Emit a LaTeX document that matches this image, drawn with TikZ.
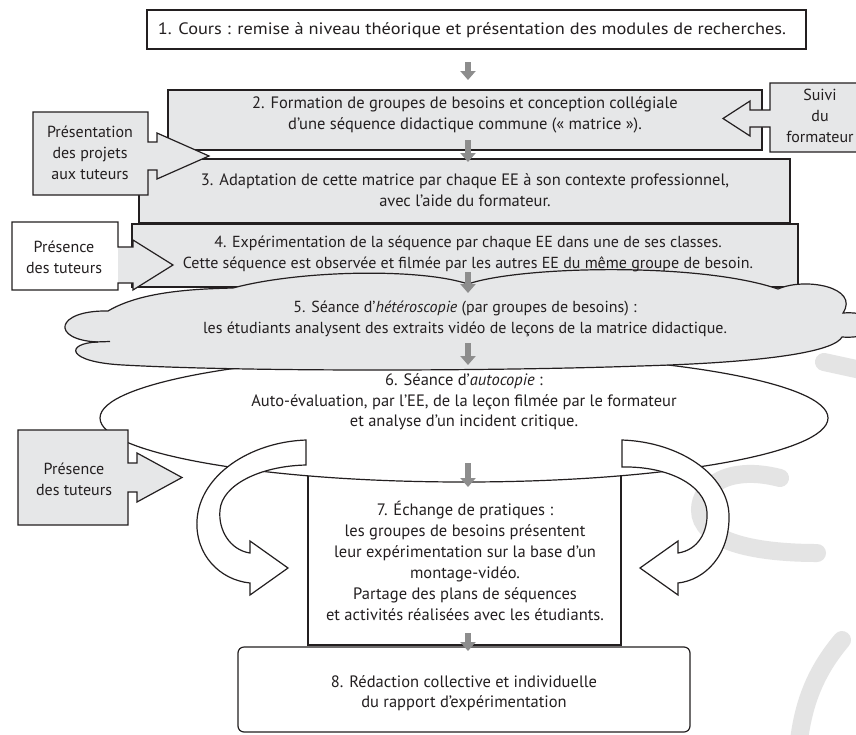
\documentclass[tikz,border=0pt]{standalone}
\usepackage{graphicx}
\usepackage{fontspec}
\setmainfont{PT Sans}
\usetikzlibrary{arrows.meta}
\definecolor{boxgray}{HTML}{E6E7E8}
\definecolor{ink}{HTML}{231F20}
\definecolor{flowgray}{HTML}{8D8D8D}
\definecolor{wmark}{HTML}{E4E4E4}
\begin{document}
\begin{tikzpicture}[x=1pt,y=-1pt,
  ln/.style={draw=ink, line width=1.2pt},
  gbox/.style={ln, fill=boxgray, rectangle, inner sep=0pt},
  wbox/.style={ln, fill=white, rectangle, inner sep=0pt},
  txt/.style={align=center, inner sep=0pt, text=ink, font=\fontsize{16.5}{20.5}\selectfont},
  smalltxt/.style={txt, font=\fontsize{16}{21}\selectfont},
  flow/.style={draw=flowgray, line width=6pt, -{Triangle[width=15pt,length=9pt]}},
  wm/.style={draw=wmark, line width=18pt, line cap=round}]
\clip (0,0) rectangle (856,734);
\fill[white] (0,0) rectangle (856,734);
% watermark
\draw[wm] (780,478) .. controls (730,465) and (700,485) .. (700,510) .. controls (700,540) and (750,553) .. (817,553);
\draw[wm] (824,362) -- (870,372);
\draw[wm] (842,640) .. controls (815,672) and (802,705) .. (798,750);
% boxes 1-3
\node[wbox, minimum width=659pt, minimum height=39pt] (b1) at (476.5,29.5) {};
\node[gbox, minimum width=594pt, minimum height=60pt] (b2) at (465,120) {};
\node[gbox, minimum width=651pt, minimum height=64pt] (b3) at (464.5,191) {};
% callout 1
\filldraw[ln, fill=boxgray] (33,112) -- (148,112) -- (148,142) -- (157,142) -- (157,133) -- (209,156) -- (157,179) -- (157,170) -- (148,170) -- (148,195) -- (33,195) -- cycle;
% box 4
\node[gbox, minimum width=666pt, minimum height=63pt] (b4) at (465,255.5) {};
% callout 2
\fill[boxgray] (118,247) -- (133,247) -- (133,240) -- (173,265) -- (133,290) -- (133,283) -- (118,283) -- cycle;
\fill[white] (12,222) rectangle (118,290);
\draw[ln] (12,222) -- (118,222) -- (118,247) -- (133,247) -- (133,240) -- (173,265) -- (133,290) -- (133,283) -- (118,283) -- (118,290) -- (12,290) -- cycle;
% boxes 7, 8
\node[wbox, minimum width=313pt, minimum height=185pt] (b7) at (464.5,552.5) {};
\node[wbox, rounded corners=6pt, minimum width=452pt, minimum height=85pt] (b8) at (464,689.5) {};
% ellipse 6
\filldraw[ln, fill=white] (464,418) ellipse [x radius=364, y radius=64];
% cloud 5
\filldraw[ln, fill=boxgray] (233,288) .. controls (300,270) and (420,268) .. (468,284)
  .. controls (520,266) and (700,262) .. (778,289)
  .. controls (805,277) and (860,287) .. (843,313)
  .. controls (885,310) and (885,340) .. (842,337)
  .. controls (835,350) and (780,362) .. (640,366)
  .. controls (500,371) and (250,372) .. (123,365)
  .. controls (65,362) and (65,343) .. (98,342)
  .. controls (50,340) and (55,310) .. (108,311)
  .. controls (140,292) and (190,289) .. (233,288) -- cycle;
\draw[ln] (95,342) -- (110,341.5);
% callout 3
\filldraw[ln, fill=boxgray] (18,430) -- (128,430) -- (128,463) -- (137,463) -- (137,453) -- (182,477.5) -- (137,502) -- (137,492) -- (128,492) -- (128,525) -- (18,525) -- cycle;
% curved arrows
\filldraw[ln, fill=white] (306,440) .. controls (250,442) and (200,475) .. (197,520)
  .. controls (195,555) and (220,580) .. (250,583) -- (250,595) -- (288,568) -- (250,541) -- (250,553)
  .. controls (230,550) and (218,530) .. (220,510) .. controls (222,485) and (260,466) .. (306,465) -- cycle;
\filldraw[ln, fill=white] (622,440) .. controls (680,442) and (728,475) .. (729,515)
  .. controls (730,555) and (705,580) .. (678,583) -- (678,595) -- (640,568) -- (678,541) -- (678,553)
  .. controls (698,550) and (708,532) .. (707,512) .. controls (705,485) and (668,466) .. (622,467) -- cycle;
% right callout
\filldraw[ln, fill=boxgray] (880,83) -- (770,83) -- (770,110) -- (750,110) -- (750,101) -- (723,118.5) -- (750,136) -- (750,127) -- (770,127) -- (770,152) -- (880,152) -- cycle;
% texts
\node[txt] (t1) at (472,30) {\resizebox{628pt}{\height}{1. Cours : remise à niveau théorique et présentation des modules de recherches.}};
\node[txt] (t2) at (465,115) {2. Formation de groupes de besoins et conception collégiale\\d’une séquence didactique commune («~matrice~»).};
\node[txt] (t3) at (465,190) {3. Adaptation de cette matrice par chaque EE à son contexte professionnel,\\avec l’aide du formateur.};
\node[txt, font=\fontsize{16}{20.5}\selectfont] (t4) at (468,254) {4. Expérimentation de la séquence par chaque EE dans une de ses classes.\\Cette séquence est observée et filmée par les autres EE du même groupe de besoin.};
\node[smalltxt] (t5) at (465,319) {5. Séance d’\textit{hétéroscopie} (par groupes de besoins) :\\les étudiants analysent des extraits vidéo de leçons de la matrice didactique.};
\node[txt] (t6) at (464,402) {6. Séance d’\textit{autocopie} :\\Auto-évaluation, par l’EE, de la leçon filmée par le formateur\\et analyse d’un incident critique.};
\node[txt, font=\fontsize{16.5}{21}\selectfont] (t7) at (465,561) {7. Échange de pratiques :\\les groupes de besoins présentent\\leur expérimentation sur la base d’un\\montage-vidéo.\\Partage des plans de séquences\\et activités réalisées avec les étudiants.};
\node[txt] (t8) at (464,693) {8. Rédaction collective et individuelle\\du rapport d’expérimentation};
\node[smalltxt] (c1) at (90,153) {Présentation\\des projets\\aux tuteurs};
\node[smalltxt] (c2) at (64,257) {Présence\\des tuteurs};
\node[smalltxt] (c3) at (74,479) {Présence\\des tuteurs};
\node[smalltxt] (cr) at (820,116) {Suivi\\du\\formateur};
% flow arrows
\coordinate (a1s) at (468,62); \coordinate (a1e) at (468,80);
\coordinate (a2s) at (468,140); \coordinate (a2e) at (468,162);
\coordinate (a3s) at (468,272); \coordinate (a3e) at (468,293);
\coordinate (a4s) at (468,343); \coordinate (a4e) at (468,365);
\coordinate (a5s) at (468,463); \coordinate (a5e) at (468,487);
\coordinate (a6s) at (468,633); \coordinate (a6e) at (468,651);
\draw[flow] (a1s) -- (a1e);
\draw[flow] (a2s) -- (a2e);
\draw[flow] (a3s) -- (a3e);
\draw[flow] (a4s) -- (a4e);
\draw[flow] (a5s) -- (a5e);
\draw[flow] (a6s) -- (a6e);
\end{tikzpicture}
\end{document}
